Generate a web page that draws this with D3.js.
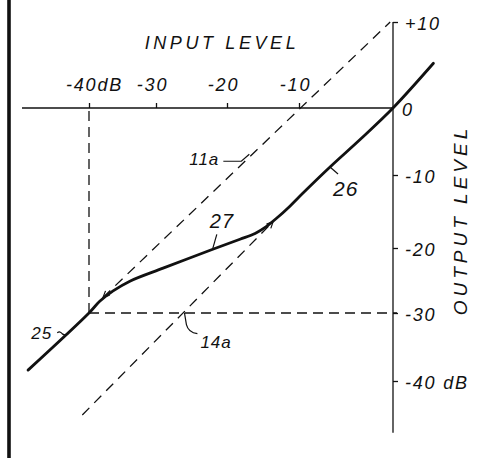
<!DOCTYPE html>
<html>
<head>
<meta charset="utf-8">
<script src="https://cdn.jsdelivr.net/npm/d3@7"></script>
<style>
  html, body { margin: 0; padding: 0; background: #fff; }
  svg { display: block; }
</style>
</head>
<body>
<svg id="chart" width="477" height="458"></svg>
<script>
// Tick values on the two level axes (dB)
const inputTicks = [-40, -30, -20, -10];
const outputTicks = [10, 0, -10, -20, -30, -40];

// Transfer characteristic (solid curve): input level -> output level, dB
const curveInput  = [-49.1, -40, -38.4, -36.4, -33.9, -29, -22, -18.2, -16.1, -14.6, -13.2, -11.3, -9.6, -6.7, -3.5, 0, 4.3];
const curveOutput = [-38.4, -30, -28.2, -26.6, -25.1, -23.1, -20.2, -18.8, -18.0, -17.1, -16.0, -14.3, -12.5, -8.8, -4.7, 0, 5.2];

// Dashed reference characteristics 11a and 14a (end points, dB)
const line11aInput  = [-37.9, -0.3];
const line11aOutput = [-27.6, 10];
const line14aInput  = [-41, -13.6];
const line14aOutput = [-45, -16.4];

// Threshold marked by the dashed guides
const kneeInput = -40;
const kneeOutput = -30;

// Extent of the drawn axis lines
const inputExtent = [-50, 0];
const outputExtent = [10, -47.6];

const svg = d3.select("#chart");
const ink = "#111";
const fontFamily = "'Liberation Sans', Arimo, Arial, sans-serif";

// Hand-ruled scales: each decade of the drawing has its own spacing
const x = d3.scaleLinear()
  .domain([-40, -30, -20, -10, 0])
  .range([89, 156, 227, 299, 393]);
const y = d3.scaleLinear()
  .domain([10, 0, -10, -20, -30, -40])
  .range([22, 108, 175, 248, 313, 381]);

// Heavy frame line at the left edge
svg.append("line")
  .attr("x1", 9).attr("x2", 9)
  .attr("y1", 0).attr("y2", 458)
  .attr("stroke", ink).attr("stroke-width", 3.6);

// Axis lines
svg.append("line")
  .attr("x1", x(inputExtent[0])).attr("x2", x(inputExtent[1]))
  .attr("y1", y(0)).attr("y2", y(0))
  .attr("stroke", ink).attr("stroke-width", 1.3);
svg.append("line")
  .attr("x1", x(0)).attr("x2", x(0))
  .attr("y1", y(outputExtent[0])).attr("y2", y(outputExtent[1]))
  .attr("stroke", ink).attr("stroke-width", 1.3);

// Input level axis (ticks rise above the line, labels above)
const xAxis = d3.axisTop(x)
  .tickValues(inputTicks)
  .tickSize(5)
  .tickPadding(12)
  .tickFormat(d => d === -40 ? "-40dB" : String(d));
const gx = svg.append("g")
  .attr("transform", `translate(0,${y(0)})`)
  .call(xAxis);
gx.select(".domain").remove();
gx.selectAll(".tick line").attr("stroke", ink).attr("stroke-width", 1.3);
gx.selectAll(".tick text")
  .attr("fill", ink)
  .attr("font-family", fontFamily)
  .attr("font-size", 18)
  .attr("font-style", "italic")
  .attr("letter-spacing", 1.8)
  .attr("x", d => d === -40 ? 5 : -4);

// Output level axis (ticks to the right of the line)
const yAxis = d3.axisRight(y)
  .tickValues(outputTicks)
  .tickSize(5)
  .tickPadding(7)
  .tickFormat(d => d === 10 ? "+10" : d === -40 ? "-40 dB" : String(d));
const gy = svg.append("g")
  .attr("transform", `translate(${x(0)},0)`)
  .call(yAxis);
gy.select(".domain").remove();
gy.selectAll(".tick line")
  .attr("stroke", ink).attr("stroke-width", 1.3)
  .attr("display", d => d === 0 ? "none" : null);
gy.selectAll(".tick text")
  .attr("fill", ink)
  .attr("font-family", fontFamily)
  .attr("font-size", 18)
  .attr("font-style", "italic")
  .attr("letter-spacing", 1.8)
  .attr("x", d => d === 0 ? 9 : 12)
  .attr("dy", "0.4em");

// Axis titles
svg.append("text")
  .attr("x", 222).attr("y", 49)
  .attr("text-anchor", "middle")
  .attr("font-family", fontFamily)
  .attr("font-size", 18)
  .attr("font-style", "italic")
  .attr("letter-spacing", 3.6)
  .attr("fill", ink)
  .text("INPUT LEVEL");
svg.append("text")
  .attr("transform", `translate(467,${(y(-10) + y(-30)) / 2 - 24}) rotate(-90)`)
  .attr("text-anchor", "middle")
  .attr("font-family", fontFamily)
  .attr("font-size", 19)
  .attr("font-style", "italic")
  .attr("letter-spacing", 4)
  .attr("fill", ink)
  .text("OUTPUT LEVEL");

// Dashed guides to the threshold point
const guide = svg.append("g")
  .attr("fill", "none").attr("stroke", ink)
  .attr("stroke-width", 1.3).attr("stroke-dasharray", "10,6");
guide.append("line")
  .attr("x1", x(kneeInput)).attr("x2", x(kneeInput))
  .attr("y1", y(0) + 3).attr("y2", y(kneeOutput));
guide.append("line")
  .attr("x1", x(kneeInput)).attr("x2", x(0) + 4)
  .attr("y1", y(kneeOutput)).attr("y2", y(kneeOutput));

// Dashed reference characteristics
const refLines = [
  d3.zip(line11aInput, line11aOutput),
  d3.zip(line14aInput, line14aOutput)
];
const straight = d3.line().x(d => x(d[0])).y(d => y(d[1]));
svg.append("g")
  .selectAll("path")
  .data(refLines)
  .join("path")
  .attr("d", straight)
  .attr("fill", "none").attr("stroke", ink)
  .attr("stroke-width", 1.3).attr("stroke-dasharray", "10,7");

// Small open arrow tips where the dashed lines meet the curve
function arrowTip(tip, from) {
  const a = Math.atan2(tip[1] - from[1], tip[0] - from[0]);
  const len = 7, spread = 0.45;
  const p1 = [tip[0] - len * Math.cos(a - spread), tip[1] - len * Math.sin(a - spread)];
  const p2 = [tip[0] - len * Math.cos(a + spread), tip[1] - len * Math.sin(a + spread)];
  return `M${p1}L${tip}L${p2}`;
}
const tips = [
  [[x(line11aInput[0]), y(line11aOutput[0])], [x(line11aInput[1]), y(line11aOutput[1])]],
  [[x(line14aInput[1]), y(line14aOutput[1])], [x(line14aInput[0]), y(line14aOutput[0])]]
];
svg.append("g")
  .selectAll("path")
  .data(tips)
  .join("path")
  .attr("d", d => arrowTip(d[0], d[1]))
  .attr("fill", "none").attr("stroke", ink).attr("stroke-width", 1.2);

// Solid transfer characteristic
const curveLine = d3.line()
  .x(d => x(d[0])).y(d => y(d[1]))
  .curve(d3.curveCatmullRom.alpha(0.5));
svg.append("path")
  .datum(d3.zip(curveInput, curveOutput))
  .attr("d", curveLine)
  .attr("fill", "none").attr("stroke", ink)
  .attr("stroke-width", 2.8).attr("stroke-linecap", "round")
  .attr("stroke-linejoin", "round");

// Reference numerals with their leader lines
function callout(anchor, leader, label, tx, ty, anchorMode, size) {
  const g = svg.append("g").attr("transform", `translate(${anchor[0]},${anchor[1]})`);
  g.append("path").attr("d", leader)
    .attr("fill", "none").attr("stroke", ink).attr("stroke-width", 1.2);
  g.append("text")
    .attr("x", tx).attr("y", ty)
    .attr("text-anchor", anchorMode)
    .attr("font-family", fontFamily)
    .attr("font-size", size)
    .attr("font-style", "italic")
    .attr("letter-spacing", 1)
    .attr("fill", ink)
    .text(label);
}
// 25: lower straight section of the curve
callout([x(-43.4), y(-33.2)], "M-9,-2 Q-6,-4 -4,-1 Q-2,1 2,-1", "25", -14, 4, "end", 17);
// 27: flattened middle section
callout([x(-22), y(-20.2)], "M0,-1 L4,-15", "27", -3, -21, "start", 20);
// 26: upper section through the origin
callout([x(-6.7), y(-8.8)], "M0,0 L8,7", "26", 3, 29, "start", 21);
// 11a: upper dashed reference line
callout([x(-16.9), y(-6.9)], "M0,0 L-8,7 L-26,7", "11a", -30, 11, "end", 17);
// 14a: lower dashed reference line
const a14 = [
  x(line14aInput[0]) + 0.53 * (x(line14aInput[1]) - x(line14aInput[0])),
  y(line14aOutput[0]) + 0.53 * (y(line14aOutput[1]) - y(line14aOutput[0]))
];
callout(a14, "M1,0 L3,12 Q5,20 14,21", "14a", 17, 35, "start", 17);
</script>
</body>
</html>
